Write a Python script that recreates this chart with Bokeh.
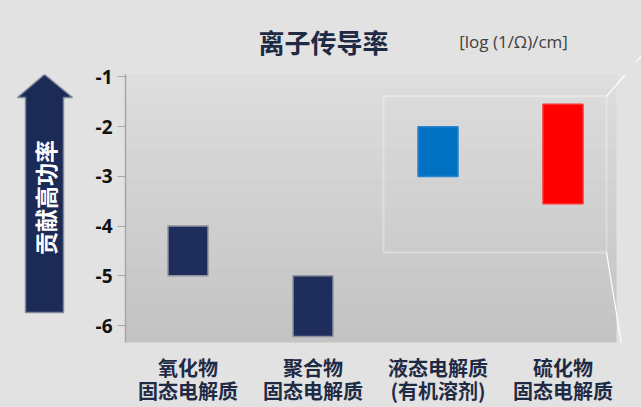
import math
from bokeh.plotting import figure
from bokeh.models import Range1d, FactorRange, FixedTicker, BoxAnnotation
from bokeh.layouts import column, row
from bokeh.core.properties import value
from bokeh.embed import file_html
from bokeh.resources import INLINE

# ---- data ----
categories = ["氧化物\n固态电解质", "聚合物\n固态电解质", "液态电解质\n(有机溶剂)", "硫化物\n固态电解质"]
low_values = [-5.0, -6.22, -3.0, -3.55]
high_values = [-4.0, -5.0, -2.0, -1.55]
bar_colors = ["#1f2d5c", "#1f2d5c", "#0070c0", "#ff0000"]
bar_lines = ["#8d939f", "#8d939f", "#2a85d0", "#ff3030"]
y_ticks = [-1, -2, -3, -4, -5, -6]
title_text = "离子传导率"
unit_text = "[log (1/Ω)/cm]"
arrow_text = "贡献高功率"

BG = "#e2e2e2"
CJK = "Noto Sans CJK SC"
NAVY_TEXT = "#1f2a44"


def blank(width, height, xr, yr, **kw):
    f = figure(width=width, height=height, output_backend="svg", toolbar_location=None,
               x_range=Range1d(*xr), y_range=Range1d(*yr),
               x_axis_type=None, y_axis_type=None, **kw)
    f.background_fill_color = BG
    f.border_fill_color = BG
    f.outline_line_color = None
    f.grid.visible = False
    return f


# ---- top strip: title + unit ----
top = blank(641, 62, (0, 641), (345, 407), min_border=0)
top.text(x=[323], y=[407 - 41], text=[title_text], text_font=value(CJK),
         text_font_style="bold", text_font_size="26px", text_color=NAVY_TEXT,
         text_align="center", text_baseline="middle")
top.text(x=[513], y=[407 - 41], text=[unit_text], text_font=value("Open Sans"),
         text_font_size="17px", text_color="#404040",
         text_align="center", text_baseline="middle")
top.segment(x0=[635.2], y0=[407 - 62], x1=[641], y1=[407 - 55],
            line_color="white", line_width=1.2)

# ---- left strip: arrow (frame aligned with the main chart frame: page y 74..342) ----
left = blank(78, 345, (0, 78), (407 - 342, 407 - 74), min_border_left=0,
             min_border_right=0, min_border_top=12, min_border_bottom=65)
ax_l, ax_r, hx_l, hx_r, tip_x = 25, 63, 17, 72, 44
tip_y, head_y, bot_y = 407 - 74, 407 - 97, 407 - 312
left.patch(x=[ax_l, ax_l, hx_l, tip_x, hx_r, ax_r, ax_r],
           y=[bot_y, head_y, head_y, tip_y, head_y, head_y, bot_y],
           fill_color="#1c2a56", line_color="#7f8898", line_width=1.5)
left.text(x=[tip_x], y=[407 - 197], text=[arrow_text], angle=math.pi / 2,
          text_align="center", text_baseline="middle", text_color="white",
          text_font=value(CJK), text_font_style="bold", text_font_size="23px")

# ---- main chart ----
p = figure(width=563, height=345, output_backend="svg", toolbar_location=None,
           x_range=FactorRange(factors=categories, range_padding=0),
           y_range=Range1d(-6.342, -0.95),
           min_border_left=47, min_border_right=16, min_border_top=12,
           min_border_bottom=65)
p.background_fill_color = BG
p.border_fill_color = BG
p.outline_line_color = None
p.xgrid.grid_line_color = None
p.ygrid.grid_line_color = None

# gray gradient plot area (decoration)
n_bands = 18
y_top, y_bot = -0.95, -6.342
for i in range(n_bands):
    t = i / (n_bands - 1)
    c = int(round(221 - t * 26))
    b_top = y_top + (y_bot - y_top) * i / n_bands
    b_bot = y_top + (y_bot - y_top) * (i + 1) / n_bands
    p.add_layout(BoxAnnotation(top=b_top, bottom=b_bot - 0.01, right=3.928,
                               fill_color="#%02x%02x%02x" % (c, c, c),
                               fill_alpha=1.0, line_color=None, level="underlay"))

# bars
p.vbar(x=categories, bottom=low_values, top=high_values, width=0.32,
       fill_color=bar_colors, line_color=bar_lines, line_width=1.5)

# highlight box and callout lines
p.add_layout(BoxAnnotation(left=2.064, right=3.848, top=-1.39, bottom=-4.53,
                           fill_alpha=0, line_color="white", line_width=2))
p.segment(x0=[3.848, 3.848], y0=[-1.39, -4.53], x1=[4.128, 4.05], y1=[-0.567, -7.65],
          line_color="white", line_width=1.2)

# axes
p.yaxis.ticker = FixedTicker(ticks=y_ticks)
p.yaxis.major_label_overrides = {t: str(t) for t in y_ticks}
p.yaxis.minor_tick_line_color = None
p.yaxis.major_tick_in = 0
p.yaxis.major_tick_out = 8
p.yaxis.axis_line_color = "#a6a6a6"
p.yaxis.axis_line_width = 1.5
p.yaxis.major_tick_line_color = "#a6a6a6"
p.yaxis.major_label_text_font = "Open Sans"
p.yaxis.major_label_text_font_style = "bold"
p.yaxis.major_label_text_font_size = "19px"
p.yaxis.major_label_text_color = "#111111"
p.yaxis.major_label_standoff = 5

p.xaxis.axis_line_color = None
p.xaxis.major_tick_line_color = None
p.xaxis.minor_tick_line_color = None
p.xaxis.major_label_text_font = CJK
p.xaxis.major_label_text_font_style = "bold"
p.xaxis.major_label_text_font_size = "20px"
p.xaxis.major_label_text_color = NAVY_TEXT
p.xaxis.major_label_text_line_height = 0.8
p.xaxis.major_label_standoff = 4

layout = column(top, row(left, p, spacing=0), spacing=0)

html = file_html(layout, INLINE)
html = html.replace("</head>", "<style>html, body { background-color: %s !important; }</style>\n</head>" % BG, 1)
open("out.html", "w").write(html)
